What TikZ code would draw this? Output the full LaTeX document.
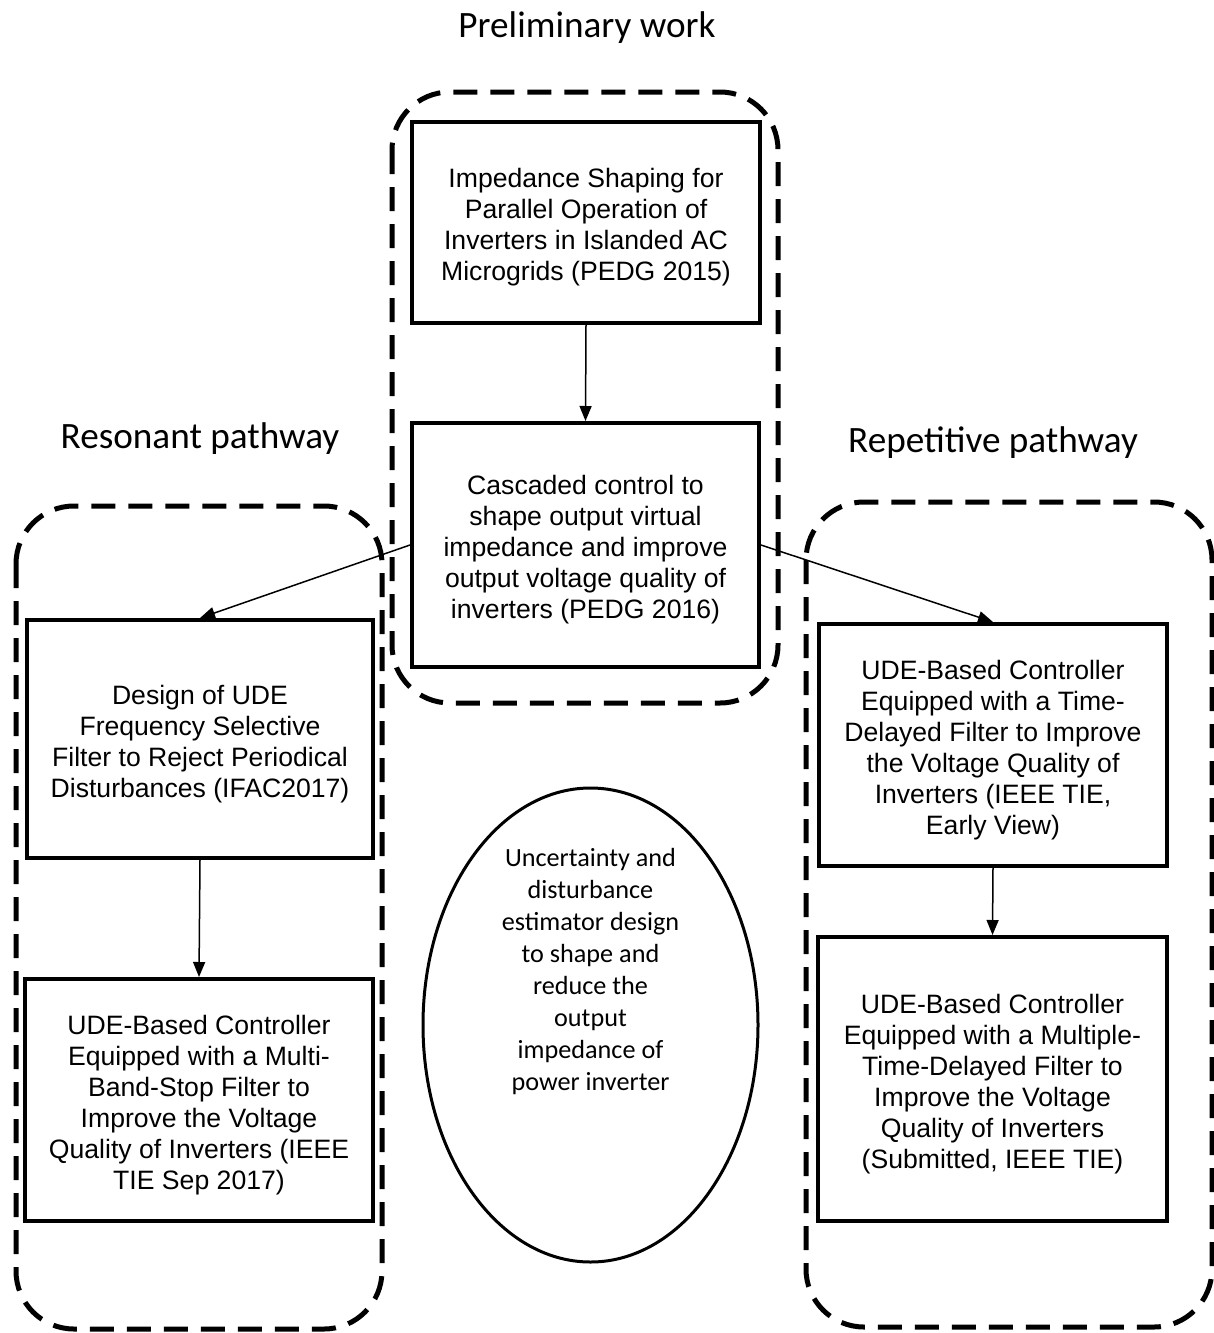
\documentclass[tikz,border=0pt]{standalone}
\usepackage{fontspec}
\setmainfont{Liberation Sans}
\newfontfamily\calib{Carlito}
\usetikzlibrary{arrows.meta,shapes.geometric}
\tikzset{
  paper/.style={draw=black, line width=2pt, inner sep=0pt},
  papertext/.style={align=center, inner sep=0pt, yshift=-2.5pt,
    font=\fontsize{13.3}{15.5}\selectfont},
  grp/.style={draw=black, line width=2.5pt, dash pattern=on 12pt off 6.5pt,
    rounded corners=29pt},
  heading/.style={font=\calib\fontsize{18.6}{22}\selectfont, inner sep=0pt, yshift=-1.5pt},
  link/.style={line width=0.75pt, -{Triangle[length=7.5pt,width=6pt]}},
  oval/.style={ellipse, draw=black, line width=1.5pt, inner sep=0pt},
}
\begin{document}
\begin{tikzpicture}[x=0.5pt,y=-0.5pt]
\useasboundingbox (0,0) rectangle (1214,1333);
% group frames
\draw[grp] (392,92) rectangle (778,703);
\draw[grp] (16,506) rectangle (382,1329);
\draw[grp] (806,502) rectangle (1212,1327);
% headings
\node[heading] (hP) at (587,25) {Preliminary work};
\node[heading] (hL) at (200,436) {Resonant pathway};
\node[heading] (hR) at (993,440) {Repetitive pathway};
% boxes
\node[paper, minimum width=174pt, minimum height=100.5pt] (A) at (586,222.5) {};
\node[papertext] (At) at (A.center)
  {Impedance Shaping for\\Parallel Operation of\\Inverters in Islanded AC\\Microgrids (PEDG 2015)};
\node[paper, minimum width=173.5pt, minimum height=122pt] (B) at (585.5,545) {};
\node[papertext] (Bt) at (B.center)
  {Cascaded control to\\shape output virtual\\impedance and improve\\output voltage quality of\\inverters (PEDG 2016)};
\node[paper, minimum width=173pt, minimum height=119pt] (C) at (200,739) {};
\node[papertext] (Ct) at (C.center)
  {Design of UDE\\Frequency Selective\\Filter to Reject Periodical\\Disturbances (IFAC2017)};
\node[paper, minimum width=174pt, minimum height=121pt] (D) at (199,1100) {};
\node[papertext] (Dt) at (D.center)
  {UDE-Based Controller\\Equipped with a Multi-\\Band-Stop Filter to\\Improve the Voltage\\Quality of Inverters (IEEE\\TIE Sep 2017)};
\node[paper, minimum width=174pt, minimum height=121pt] (E) at (993,745) {};
\node[papertext] (Et) at (E.center)
  {UDE-Based Controller\\Equipped with a Time-\\Delayed Filter to Improve\\the Voltage Quality of\\Inverters (IEEE TIE,\\Early View)};
\node[paper, minimum width=174.5pt, minimum height=142pt] (F) at (992.5,1079) {};
\node[papertext] (Ft) at (F.center)
  {UDE-Based Controller\\Equipped with a Multiple-\\Time-Delayed Filter to\\Improve the Voltage\\Quality of Inverters\\(Submitted, IEEE TIE)};
% ellipse
\node[oval, minimum width=167.5pt, minimum height=237pt] (O) at (590.5,1025) {};
\node[align=center, inner sep=0pt, font=\calib\fontsize{13.1}{16}\selectfont] (Ot) at (590.5,971.5)
  {Uncertainty and\\disturbance\\estimator design\\to shape and\\reduce the\\output\\impedance of\\power inverter};
% connectors
\draw[link] (A.south) -- (B.north);
\draw[link] (B.west) -- (C.north);
\draw[link] (B.east) -- (E.north);
\draw[link] (C.south) -- (D.north);
\draw[link] (E.south) -- (F.north);
\end{tikzpicture}
\end{document}
